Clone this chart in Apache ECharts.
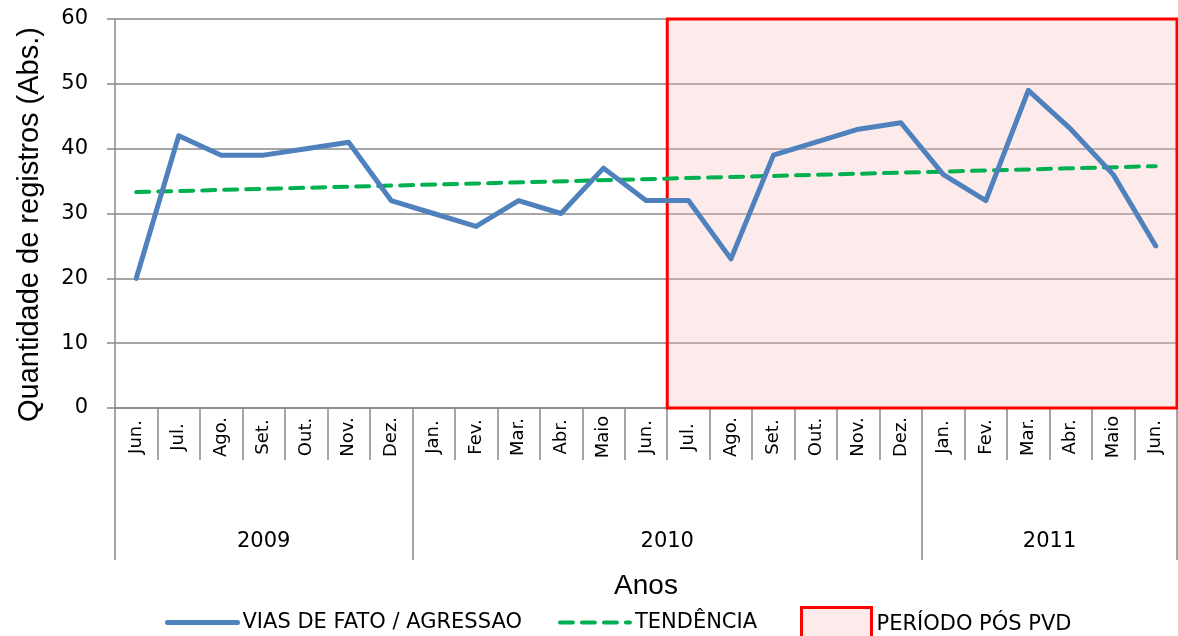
<!DOCTYPE html>
<html>
<head>
<meta charset="utf-8">
<script src="https://cdn.jsdelivr.net/npm/echarts@6/dist/echarts.min.js"></script>
<style>
  html, body { margin: 0; padding: 0; background: #ffffff; }
  #chart { width: 1178px; height: 636px; }
</style>
</head>
<body>
<div id="chart"></div>
<script>
// ---- data ----
const months = ['Jun.', 'Jul.', 'Ago.', 'Set.', 'Out.', 'Nov.', 'Dez.',
  'Jan.', 'Fev.', 'Mar.', 'Abr.', 'Maio', 'Jun.', 'Jul.', 'Ago.', 'Set.', 'Out.', 'Nov.', 'Dez.',
  'Jan.', 'Fev.', 'Mar.', 'Abr.', 'Maio', 'Jun.'];
const years = ['2009', '2010', '2011'];
const monthsPerYear = [7, 12, 6];
const agressao = [20, 42, 39, 39, 40, 41, 32, 30, 28, 32, 30, 37, 32, 32, 23, 39, 41, 43, 44, 36, 32, 49, 43, 36, 25];
const trendEnds = [33.3, 37.3];           // trend value at first and last month
const postPeriodFirstMonth = 13;          // index of Jul. 2010
const yTicks = [0, 10, 20, 30, 40, 50, 60];

const SERIES_MAIN = 'VIAS DE FATO / AGRESSAO';
const SERIES_TREND = 'TENDÊNCIA';
const SERIES_PERIOD = 'PERÍODO PÓS PVD';

// ---- derived helpers for the year axis ----
const yearBounds = [0];
monthsPerYear.forEach(n => yearBounds.push(yearBounds[yearBounds.length - 1] + n));
const yearCenters = years.map((_, i) => (yearBounds[i] + yearBounds[i + 1]) / 2);
const nMonths = months.length;

const FONT = '"DejaVu Sans", sans-serif';
const TITLE_FONT = '"Liberation Sans", Arial, sans-serif';
const GREY = '#888888';
const BLUE = '#4f81bd';
const GREEN = '#00b050';

const chart = echarts.init(document.getElementById('chart'), null, { renderer: 'canvas' });
chart.setOption({
  animation: false,
  backgroundColor: '#ffffff',
  textStyle: { fontFamily: FONT, color: '#000' },
  grid: { left: 115, right: 1, top: 19, bottom: 228, containLabel: false },
  legend: [
    {
      left: 160, top: 607, itemWidth: 70, itemHeight: 26, itemGap: 36,
      textStyle: { fontFamily: FONT, fontSize: 21, color: '#000' },
      data: [
        { name: SERIES_MAIN, itemStyle: { opacity: 0 }, lineStyle: { width: 5, color: BLUE } },
        { name: SERIES_TREND, itemStyle: { opacity: 0 }, lineStyle: { width: 4, color: GREEN, type: [13, 9] } }
      ]
    },
    {
      left: 795, top: 601, itemWidth: 70, itemHeight: 34,
      textStyle: { fontFamily: FONT, fontSize: 21, color: '#000' },
      data: [{ name: SERIES_PERIOD, icon: 'rect',
        itemStyle: { color: '#fdeaea', borderColor: '#ff0000', borderWidth: 3 } }]
    }
  ],
  xAxis: [
    {
      type: 'category',
      data: months,
      boundaryGap: true,
      position: 'bottom',
      axisLine: { show: true, lineStyle: { color: GREY, width: 1.5 } },
      axisTick: { show: true, interval: 0, length: 52, lineStyle: { color: GREY, width: 1.5 } },
      axisLabel: { interval: 0, rotate: 90, align: 'center', verticalAlign: 'middle', margin: 29,
        fontFamily: FONT, fontSize: 18, color: '#000' },
      splitLine: { show: false }
    },
    {
      type: 'value',
      min: 0,
      max: nMonths,
      position: 'bottom',
      offset: 0,
      name: 'Anos',
      nameLocation: 'middle',
      nameGap: 164,
      nameTextStyle: { fontFamily: TITLE_FONT, fontSize: 28, color: '#000' },
      axisLine: { show: false },
      axisTick: { show: true, customValues: yearBounds, length: 152, lineStyle: { color: GREY, width: 1.5 } },
      axisLabel: { show: true, customValues: yearCenters, margin: 123,
        formatter: v => { const i = yearCenters.indexOf(v); return i >= 0 ? years[i] : ''; },
        fontFamily: FONT, fontSize: 21, color: '#000' },
      splitLine: { show: false }
    }
  ],
  yAxis: {
    type: 'value',
    min: yTicks[0],
    max: yTicks[yTicks.length - 1],
    interval: yTicks[1] - yTicks[0],
    name: 'Quantidade de registros (Abs.)',
    nameLocation: 'middle',
    nameGap: 71,
    nameTextStyle: { fontFamily: TITLE_FONT, fontSize: 29, color: '#000', padding: [0, 22, 0, 0] },
    axisLine: { show: true, lineStyle: { color: GREY, width: 1.5 } },
    axisTick: { show: true, length: 8, lineStyle: { color: GREY, width: 1.5 } },
    axisLabel: { margin: 27, fontFamily: FONT, fontSize: 21, color: '#000' },
    splitLine: { show: true, lineStyle: { color: GREY, width: 1.5 } }
  },
  series: [
    {
      name: SERIES_PERIOD,
      type: 'line',
      xAxisIndex: 1,
      data: [],
      z: 1,
      silent: true,
      itemStyle: { color: '#fdeaea', borderColor: '#ff0000', borderWidth: 3 },
      markArea: {
        silent: true,
        itemStyle: { color: 'rgba(248,190,190,0.3)', borderColor: '#ff0000', borderWidth: 3 },
        data: [[
          { coord: [postPeriodFirstMonth, yTicks[0]] },
          { coord: [nMonths, yTicks[yTicks.length - 1]] }
        ]]
      }
    },
    {
      name: SERIES_TREND,
      type: 'line',
      xAxisIndex: 0,
      data: [[0, trendEnds[0]], [nMonths - 1, trendEnds[1]]],
      symbol: 'none',
      z: 3,
      itemStyle: { color: GREEN },
      lineStyle: { color: GREEN, width: 4, type: [13, 9], cap: 'round' }
    },
    {
      name: SERIES_MAIN,
      type: 'line',
      xAxisIndex: 0,
      data: agressao,
      symbol: 'none',
      z: 4,
      itemStyle: { color: BLUE },
      lineStyle: { color: BLUE, width: 5, join: 'round', cap: 'round' }
    }
  ]
});
</script>
</body>
</html>
